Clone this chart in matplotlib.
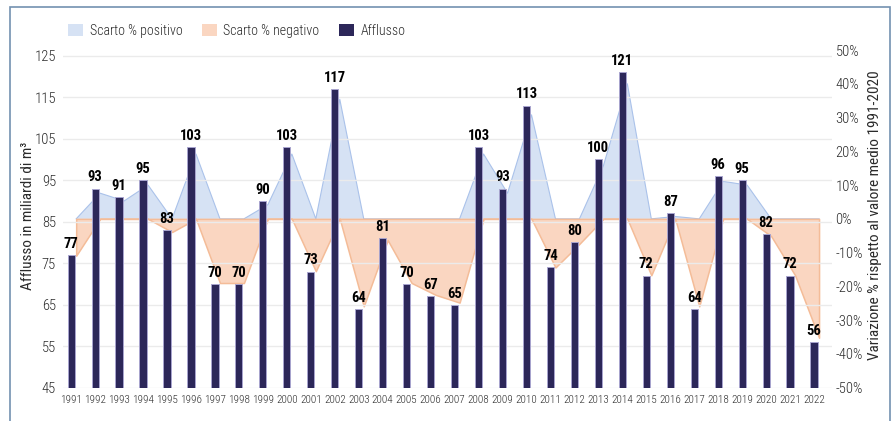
import matplotlib
matplotlib.use("Agg")
import matplotlib.pyplot as plt
from matplotlib.patches import Patch, Rectangle
import numpy as np

plt.rcParams['font.family'] = ['Roboto Condensed', 'Noto Sans ExtraCondensed',
                               'Noto Sans Condensed', 'Liberation Sans Narrow',
                               'Noto Sans', 'DejaVu Sans']
plt.rcParams['font.stretch'] = 'extra-condensed'
plt.rcParams['font.weight'] = 'light'

years = [str(y) for y in range(1991, 2023)]
afflusso = [77, 93, 91, 95, 83, 103, 70, 70, 90, 103,
            73, 117, 64, 81, 70, 67, 65, 103, 93, 113,
            74, 80, 100, 121, 72, 87, 64, 96, 95, 82,
            72, 56]
# percentage deviation from 1991-2020 mean
scarto = [-10.9, 7.6, 5.3, 10.0, -3.9, 19.2, -19.0, -19.0, 4.2, 19.2,
          -15.5, 35.4, -25.9, -6.3, -19.0, -22.5, -24.8, 19.2, 7.6, 30.8,
          -14.4, -7.4, 15.7, 40.0, -16.7, 0.7, -25.9, 11.1, 10.0, -5.1,
          -16.7, -35.2]
left_ticks = [45, 55, 65, 75, 85, 95, 105, 115, 125]
right_ticks = [-50, -40, -30, -20, -10, 0, 10, 20, 30, 40, 50]

C_BLUE = '#d6e2f4'
C_BLUE_E = '#aac2ea'
C_ORANGE = '#fad6c1'
C_ORANGE_E = '#f4bc98'
C_NAVY = '#2c2759'
C_NAVY_E = '#a8a4cf'
C_TXT = '#2a2a2a'

fig = plt.figure(figsize=(8.96, 4.21), dpi=100)
ax = fig.add_axes([63/896, 1-387.7/421, (832-63)/896, (387.7-50)/421])
ax2 = ax.twinx()

x = np.arange(len(years))
sc = np.array(scarto)
pos = np.clip(sc, 0, None)
neg = np.clip(sc, None, 0)
xa = x + 0.21
ax2.fill_between(xa, 0, pos, facecolor=C_BLUE, edgecolor='none', zorder=1)
ax2.plot(xa, pos, color=C_BLUE_E, lw=0.8, zorder=2)
ax2.fill_between(xa, 0, neg, facecolor=C_ORANGE, edgecolor=C_ORANGE_E, lw=1.1, zorder=3)
ax2.set_ylim(-50, 50)
ax2.set_yticks(right_ticks)
ax2.set_yticklabels([f'{t}%' for t in right_ticks])
ax2.tick_params(axis='y', length=0, pad=2.5, labelsize=10.5, labelcolor=C_TXT)
ax2.set_ylabel('Variazione % rispetto al valore medio 1991-2020', fontsize=11,
               color=C_TXT)
ax2.yaxis.set_label_coords(1.0465, 0.51)
for s in ax2.spines.values():
    s.set_visible(False)

ax.set_zorder(ax2.get_zorder() + 1)
ax.patch.set_visible(False)
bars = ax.bar(x, [v - 45 for v in afflusso], bottom=45, width=0.3, color=C_NAVY,
              edgecolor=C_NAVY_E, linewidth=0.7, zorder=3)
for xi, v in zip(x, afflusso):
    ax.annotate(str(v), (xi, v), xytext=(0, 3), textcoords='offset points',
                ha='center', va='bottom', fontsize=10.5, fontweight='bold', color='black')
ax.set_xlim(-0.34, 31.75)
ax.set_ylim(45, 45 + (387.7-50)/4.15)
ax.set_yticks(left_ticks)
ax.set_xticks(x)
ax.set_xticklabels(years)
ax.tick_params(axis='y', length=0, pad=5, labelsize=10.5, labelcolor=C_TXT)
ax.tick_params(axis='x', length=0, pad=5, labelsize=8, labelcolor=C_TXT)
ax.grid(axis='y', color='#ebebeb', lw=1.0, zorder=0)
ax.set_axisbelow(True)
ax.set_ylabel('Afflusso in miliardi di m³', fontsize=11, color=C_TXT)
ax.yaxis.set_label_coords(-0.0364, 0.51)
for s in ax.spines.values():
    s.set_visible(False)

handles = [Patch(facecolor=C_BLUE, edgecolor='none', label='Scarto % positivo'),
           Patch(facecolor=C_ORANGE, edgecolor='none', label='Scarto % negativo'),
           Patch(facecolor=C_NAVY, edgecolor='none', label='Afflusso')]
fig.legend(handles=handles, loc='center left', bbox_to_anchor=(68/896, 1-31/421),
           ncol=3, frameon=False, fontsize=10, handlelength=1.1, handleheight=1.0,
           handletextpad=0.45, columnspacing=1.4, borderpad=0, borderaxespad=0,
           labelcolor=C_TXT)

fig.patches.append(Rectangle((10/896, -0.05), 880/896, 1-7/421+0.05,
                             transform=fig.transFigure, fill=False,
                             edgecolor='#7391b0', lw=1.2))

fig.savefig('out.png', dpi=100)
